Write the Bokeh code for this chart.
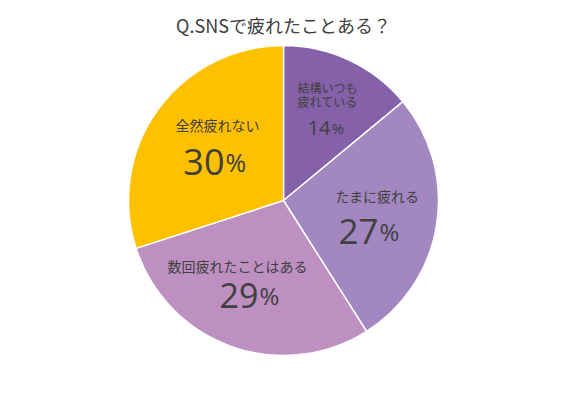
import numpy as np
from bokeh.plotting import figure
from bokeh.models import Range1d
from bokeh.core.properties import value
from bokeh.embed import file_html
from bokeh.resources import INLINE

# ---- data ----
title_text = "Q.SNSで疲れたことある？"
categories = ["結構いつも\n疲れている", "たまに疲れる", "数回疲れたことはある", "全然疲れない"]
values = [14, 27, 29, 30]
colors = ["#8461A9", "#A287C1", "#BE8FC1", "#FFC000"]

# ---- layout (label anchor offsets from the pie centre, in px) ----
label_xy = [(44, 113), (94, 5), (-46, -65), (-66, 76)]
label_size = [12, 14, 14, 14]
num_xy = [(47, 73), (95, -31), (-25, -95), (-59, 39)]
num_size = [20, 35, 34, 36]
pct_size = [15, 24, 24, 25]

W, H = 551, 378
R = 155
p = figure(width=W, height=H, output_backend="svg", toolbar_location=None,
           x_range=Range1d(-283, 268), y_range=Range1d(-178, 200),
           min_border=0, outline_line_color=None)
p.axis.visible = False
p.grid.visible = False
p.background_fill_color = "white"
p.border_fill_color = "white"

total = sum(values)
cum = np.cumsum([0] + values) / total
starts = np.pi / 2 - 2 * np.pi * cum[:-1]
ends = np.pi / 2 - 2 * np.pi * cum[1:]
p.wedge(x=0, y=0, radius=R, start_angle=list(starts), end_angle=list(ends),
        direction="clock", fill_color=colors, line_color="white", line_width=1.5)

txt = "#404040"
jp = value("Noto Sans CJK JP")
num_font = value("Open Sans")

p.text(x=[0], y=[176], text=[title_text], text_font=jp, text_font_size="18px",
       text_color=txt, text_align="center", text_baseline="middle")

for i, cat in enumerate(categories):
    lines = cat.split("\n")
    lx, ly = label_xy[i]
    step = label_size[i] + 2
    for k, ln in enumerate(lines):
        p.text(x=[lx], y=[ly - k * step], text=[ln], text_font=jp,
               text_font_size=f"{label_size[i]}px", text_color=txt,
               text_align="center", text_baseline="middle")
    nx, ny = num_xy[i]
    p.text(x=[nx], y=[ny], text=[str(values[i])], text_font=num_font,
           text_font_size=f"{num_size[i]}px", text_color=txt,
           text_align="right", text_baseline="alphabetic")
    p.text(x=[nx + 1], y=[ny], text=["%"], text_font=num_font,
           text_font_size=f"{pct_size[i]}px", text_color=txt,
           text_align="left", text_baseline="alphabetic")

open("out.html", "w").write(file_html(p, INLINE))
